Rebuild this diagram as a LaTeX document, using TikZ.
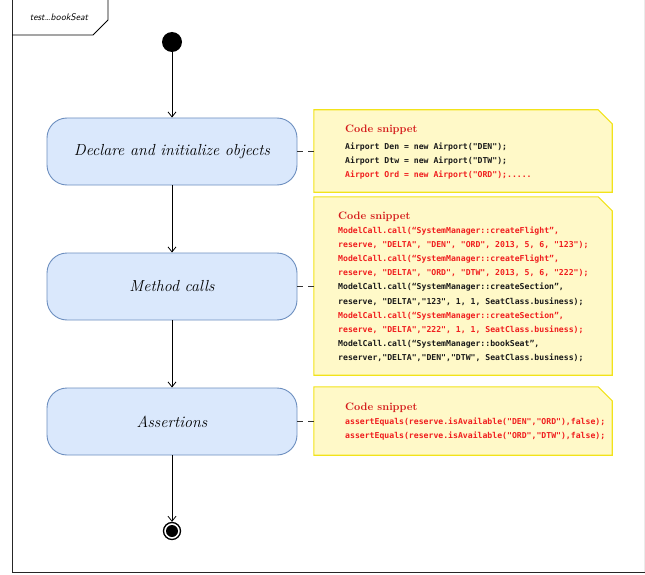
\documentclass[tikz,border=0pt]{standalone}
\usepackage{fontspec}
\setmonofont{DejaVu Sans Mono}
\usetikzlibrary{arrows.meta,calc}

\definecolor{actfill}{HTML}{DAE8FC}
\definecolor{actline}{HTML}{6C8EBF}
\definecolor{notefill}{HTML}{FFF9C8}
\definecolor{noteline}{HTML}{F2E31A}
\definecolor{snipred}{HTML}{D41A1A}
\definecolor{codered}{HTML}{F01E1E}
\definecolor{codeblk}{HTML}{1A1A1A}

\tikzset{
  activity/.style={draw=actline, fill=actfill, line width=0.9pt, rounded corners=20pt,
    minimum width=250pt, minimum height=67pt, inner sep=0pt,
    font=\fontsize{16}{18}\selectfont\itshape},
  noteshape/.style={minimum width=298pt, minimum height=#1, inner sep=0pt},
  noteborder/.style={draw=noteline, fill=notefill, line width=1.1pt},
  sniptitle/.style={anchor=west, inner sep=0pt, text=snipred,
    font=\fontsize{10.8}{13}\selectfont\bfseries},
  codeline/.style={anchor=west, inner sep=0pt, text height=6pt, text depth=1.5pt,
    font=\fontsize{8.15}{9}\selectfont\ttfamily\bfseries},
  redline/.style={codeline, text=codered},
  blkline/.style={codeline, text=codeblk},
  flow/.style={-{Straight Barb[length=5pt,width=8pt]}, line width=0.8pt},
  link/.style={dash pattern=on 6pt off 5pt, line width=0.8pt, draw=black!80}
}

\begin{document}
\begin{tikzpicture}[x=1pt,y=-1pt]
\useasboundingbox (0,0) rectangle (645,575);

% enclosing frame and its name tab
\draw[line width=0.8pt, draw=black!85] (12,-5) -- (12,572) -- (645,572);
\draw[line width=0.5pt, draw=black!8] (644,-5) -- (644,572);
\draw[line width=0.8pt] (12,-5) -- (108,-5) -- (108,20) -- (93,35) -- (12,35);
\node[font=\fontsize{9.6}{11}\selectfont\sffamily\itshape, inner sep=0pt] (tab) at (59,17) {test…bookSeat};

% initial and final nodes
\node[circle, fill=black, minimum size=20pt, inner sep=0pt] (start) at (172,42) {};
\node[circle, draw=black, line width=1.3pt, fill=white, minimum size=17pt, inner sep=0pt] (stop) at (172,531) {};
\fill (stop.center) circle (6pt);

% activities
\node[activity] (decl) at (172,151.5) {Declare and initialize objects};
\node[activity] (calls) at (172,286.5) {Method calls};
\node[activity] (asrt) at (172,421.5) {Assertions};

\draw[flow] (start) -- (decl);
\draw[flow] (decl) -- (calls);
\draw[flow] (calls) -- (asrt);
\draw[flow] (asrt) -- (stop);

% notes with folded corner
\node[noteshape=82pt] (n1) at (463,151) {};
\node[noteshape=178pt] (n2) at (463,286) {};
\node[noteshape=68pt] (n3) at (463,421) {};
\foreach \n in {n1,n2,n3}{
  \draw[noteborder] (\n.south west) -- (\n.north west) -- ([xshift=-14pt]\n.north east)
    -- ([yshift=-14pt]\n.north east) -- (\n.south east) -- cycle;
}

\draw[link] (decl.east) -- (decl.east -| n1.west);
\draw[link] (calls.east) -- (calls.east -| n2.west);
\draw[link] (asrt.east) -- (asrt.east -| n3.west);

% note 1 text
\node[sniptitle] (t1) at (345,130) {Code snippet};
\node[blkline] (a1) at (345,147) {Airport Den = new Airport("DEN");};
\node[blkline] (a2) at (345,161) {Airport Dtw = new Airport("DTW");};
\node[redline] (a3) at (345,175) {Airport Ord = new Airport("ORD");.....};

% note 2 text
\node[sniptitle] (t2) at (338,216.5) {Code snippet};
\node[redline] (b1) at (338,231) {ModelCall.call(“SystemManager::createFlight”,};
\node[redline] (b2) at (338,245.2) {reserve, "DELTA", "DEN", "ORD", 2013, 5, 6, "123");};
\node[redline] (b3) at (338,259.3) {ModelCall.call(“SystemManager::createFlight”,};
\node[redline] (b4) at (338,273.5) {reserve, "DELTA", "ORD", "DTW", 2013, 5, 6, "222");};
\node[blkline] (b5) at (338,287.6) {ModelCall.call(“SystemManager::createSection”,};
\node[blkline] (b6) at (338,301.8) {reserve, "DELTA","123", 1, 1, SeatClass.business);};
\node[redline] (b7) at (338,315.9) {ModelCall.call(“SystemManager::createSection”,};
\node[redline] (b8) at (338,330.1) {reserve, "DELTA","222", 1, 1, SeatClass.business);};
\node[blkline] (b9) at (338,344.2) {ModelCall.call(“SystemManager::bookSeat”,};
\node[blkline] (b10) at (338,358.4) {reserver,"DELTA","DEN","DTW", SeatClass.business);};

% note 3 text
\node[sniptitle] (t3) at (345,407.5) {Code snippet};
\node[redline] (c1) at (345,422.3) {assertEquals(reserve.isAvailable("DEN","ORD"),false);};
\node[redline] (c2) at (345,436.7) {assertEquals(reserve.isAvailable("ORD","DTW"),false);};
\end{tikzpicture}
\end{document}
